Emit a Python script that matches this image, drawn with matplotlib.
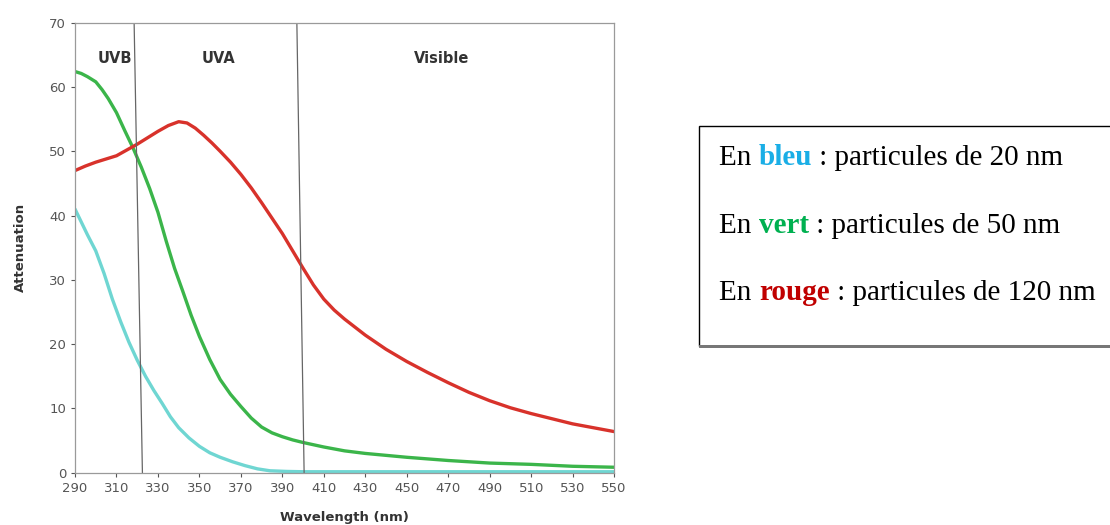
"""
Attenuation spectra of particles of three sizes, with UVB / UVA / Visible bands.
"""
import matplotlib
matplotlib.use("Agg")
import matplotlib.pyplot as plt
from matplotlib.patches import Rectangle

# Wavelength samples (nm) and attenuation.
WL_BLUE = [290, 293, 296, 300, 304, 308, 312, 316, 320, 324, 328, 332, 336, 340, 345, 350, 355,
           360, 366, 372, 378, 384, 392, 400, 450, 500, 550]
ATT_BLUE = [41.0, 39.0, 37.0, 34.5, 31.0, 27.0, 23.5, 20.3, 17.5, 15.0, 12.8, 10.8, 8.7, 7.0, 5.4,
            4.1, 3.1, 2.4, 1.7, 1.1, 0.6, 0.3, 0.2, 0.15, 0.15, 0.15, 0.15]

WL_GREEN = [290, 293, 296, 300, 303, 306, 310, 314, 318, 322, 326, 330, 334, 338, 342, 346, 350,
            355, 360, 365, 370, 375, 380, 385, 390, 395, 400, 410, 420, 430, 450, 470, 490, 510,
            530, 550]
ATT_GREEN = [62.4, 62.1, 61.6, 60.8, 59.6, 58.2, 56.0, 53.2, 50.5, 47.5, 44.2, 40.5, 36.0, 31.8,
             28.2, 24.5, 21.2, 17.6, 14.5, 12.2, 10.3, 8.5, 7.1, 6.2, 5.6, 5.1, 4.7, 4.0, 3.4,
             3.0, 2.4, 1.9, 1.5, 1.3, 1.0, 0.85]

WL_RED = [290, 295, 300, 305, 310, 315, 320, 325, 330, 335, 340, 344, 348, 352, 356, 360, 365,
          370, 375, 380, 385, 390, 395, 400, 405, 410, 415, 420, 430, 440, 450, 460, 470, 480,
          490, 500, 510, 520, 530, 540, 550]
ATT_RED = [47.0, 47.7, 48.3, 48.8, 49.3, 50.2, 51.1, 52.1, 53.1, 54.0, 54.6, 54.4, 53.6, 52.5,
           51.3, 50.0, 48.3, 46.4, 44.3, 42.0, 39.6, 37.2, 34.5, 31.8, 29.2, 27.0, 25.3, 23.9,
           21.4, 19.2, 17.3, 15.6, 14.0, 12.5, 11.2, 10.1, 9.2, 8.4, 7.6, 7.0, 6.4]

# Band boundaries as drawn (slightly slanted): wavelength at top and at bottom.
BOUNDARY_TOP = [318.5, 397.0]
BOUNDARY_BOTTOM = [322.5, 400.5]
BAND_NAMES = ["UVB", "UVA", "Visible"]
BAND_LABEL_X = [309, 359, 467]

X_TICKS = list(range(290, 551, 20))
Y_TICKS = list(range(0, 71, 10))

LEGEND_LINES = [
    ("En ", "bleu", " : particules de 20 nm", "#1aaee6"),
    ("En ", "vert", " : particules de 50 nm", "#00b050"),
    ("En ", "rouge", " : particules de 120 nm", "#c00000"),
]

fig = plt.figure(figsize=(11.1, 5.25), dpi=100)
ax = fig.add_axes([0.0676, 0.0996, 0.4856, 0.8572])

ax.plot(WL_BLUE, ATT_BLUE, color="#6fd6d2", lw=2.4, solid_capstyle="round")
ax.plot(WL_GREEN, ATT_GREEN, color="#3bb54a", lw=2.4, solid_capstyle="round")
ax.plot(WL_RED, ATT_RED, color="#d8322b", lw=2.4, solid_capstyle="round")

for top, bottom in zip(BOUNDARY_TOP, BOUNDARY_BOTTOM):
    ax.plot([top, bottom], [70, 0], color="#666666", lw=0.9)

for name, x in zip(BAND_NAMES, BAND_LABEL_X):
    ax.text(x, 64.5, name, ha="center", va="center", fontsize=10.5,
            fontweight="bold", color="#333333")

ax.set_xlim(290, 550)
ax.set_ylim(0, 70)
ax.set_xticks(X_TICKS)
ax.set_yticks(Y_TICKS)
ax.tick_params(labelsize=9.5, colors="#555555", length=3, width=0.8)
for spine in ax.spines.values():
    spine.set_color("#9a9a9a")
    spine.set_linewidth(0.9)
ax.set_xlabel("Wavelength (nm)", fontsize=9.5, fontweight="bold", color="#333333", labelpad=12)
ax.set_ylabel("Attenuation", fontsize=9.5, fontweight="bold", color="#333333", labelpad=16)

# Boxed text legend on the right, running off the right edge.
fig.patches.append(Rectangle((0.6297, 0.341), 0.45, 0.419, transform=fig.transFigure,
                             fill=False, edgecolor="black", lw=1.0))
fig.patches.append(Rectangle((0.6297, 0.341), 0.45, 0.0, transform=fig.transFigure,
                             fill=False, edgecolor="#777777", lw=2.0))

serif = "Liberation Serif"
fig.canvas.draw()
renderer = fig.canvas.get_renderer()
baselines = [0.685, 0.556, 0.428]
for (pre, word, post, color), y in zip(LEGEND_LINES, baselines):
    x = 0.648
    for part, weight, col in ((pre, "normal", "black"), (word, "bold", color), (post, "normal", "black")):
        t = fig.text(x, y, part, fontsize=21, family=serif, fontweight=weight,
                     color=col, va="baseline", ha="left")
        bb = t.get_window_extent(renderer)
        x += bb.width / fig.bbox.width

fig.savefig("out.png", dpi=100)
